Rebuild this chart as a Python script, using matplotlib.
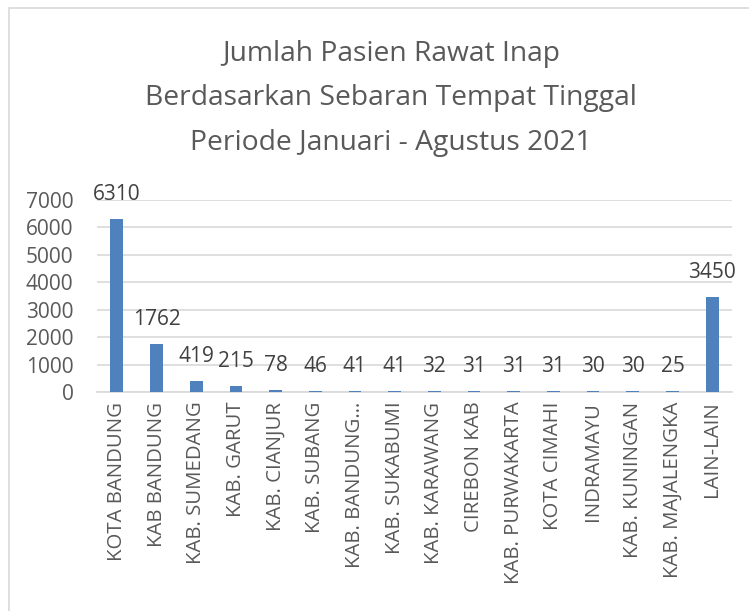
import matplotlib.pyplot as plt
from matplotlib.patches import Rectangle

# ===== data =====
categories = [
    "KOTA BANDUNG", "KAB BANDUNG", "KAB. SUMEDANG", "KAB. GARUT",
    "KAB. CIANJUR", "KAB. SUBANG", "KAB. BANDUNG…", "KAB. SUKABUMI",
    "KAB. KARAWANG", "CIREBON KAB", "KAB. PURWAKARTA", "KOTA CIMAHI",
    "INDRAMAYU", "KAB. KUNINGAN", "KAB. MAJALENGKA", "LAIN-LAIN",
]
values = [6310, 1762, 419, 215, 78, 46, 41, 41, 32, 31, 31, 31, 30, 30, 25, 3450]
y_ticks = [0, 1000, 2000, 3000, 4000, 5000, 6000, 7000]

title = "Jumlah Pasien Rawat Inap\nBerdasarkan Sebaran Tempat Tinggal\nPeriode Januari - Agustus 2021"

plt.rcParams["font.family"] = ["Open Sans", "DejaVu Sans"]
TXT = "#595959"

W, H = 749, 611
fig = plt.figure(figsize=(W / 100, H / 100), dpi=100)

# chart border (only top/left visible, picture is cropped)
fig.patches.append(Rectangle((9 / W, -0.1), 1.2, 1 - 8 / H + 0.1,
                             transform=fig.transFigure, fill=False,
                             edgecolor="#D9D9D9", linewidth=1.2))

ax = fig.add_axes([97 / W, 1 - 392 / H, 635 / W, 192 / H])
x = range(len(categories))
ax.bar(x, values, width=0.32, color="#4F81BD", zorder=3)

ax.set_ylim(0, 7000)
ax.set_xlim(-0.5, len(categories) - 0.5)
ax.set_yticks(y_ticks)
ax.yaxis.grid(True, color="#D9D9D9", linewidth=1.2, zorder=0)
ax.set_axisbelow(True)

for s in ["top", "right", "left"]:
    ax.spines[s].set_visible(False)
ax.spines["bottom"].set_color("#D9D9D9")
ax.spines["bottom"].set_linewidth(1.2)

ax.tick_params(axis="both", length=0, colors=TXT)
ax.tick_params(axis="y", labelsize=15, pad=17)
ax.set_xticks(list(x))
ax.set_xticklabels(categories, rotation=90, fontsize=14.7, color=TXT)
ax.tick_params(axis="x", pad=7)

for i, v in enumerate(values):
    ax.annotate(str(v), (i, v), xytext=(0, 10), textcoords="offset points",
                ha="center", va="bottom", fontsize=15, color="#404040")

fig.text(391 / W, 1 - 40 / H, title, ha="center", va="top", fontsize=20.3,
         color=TXT, linespacing=1.78)

fig.savefig("out.png", dpi=100)
